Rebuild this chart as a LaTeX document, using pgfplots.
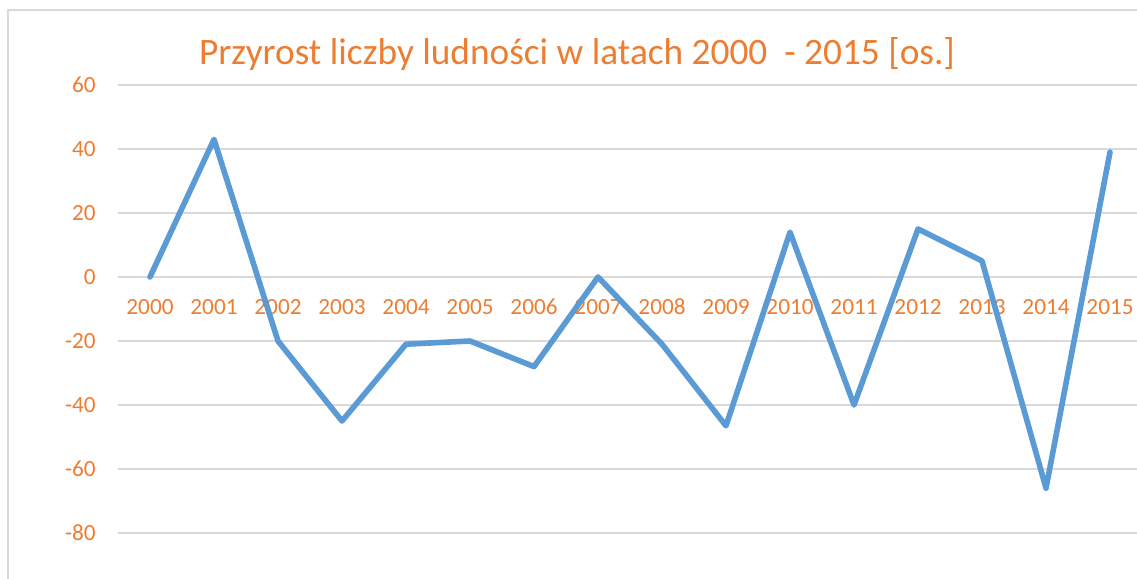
\documentclass[border=0pt]{standalone}
\usepackage{fontspec}
\setmainfont{Carlito}
\usepackage{pgfplots}
\pgfplotsset{compat=1.18}
\definecolor{orng}{HTML}{ED7D31}
\definecolor{blu}{HTML}{5B9BD5}
\definecolor{grd}{HTML}{D9D9D9}
\begin{document}
\begin{tikzpicture}[x=0.75pt,y=0.75pt]
\useasboundingbox (0,0) rectangle (1137,578);
\fill[white] (0,0) rectangle (1137,578);
\draw[grd, line width=1.1pt] (8,-20) -- (8,568) -- (1160,568);
\coordinate (A) at (118,45);
\begin{axis}[
  at={(A)}, anchor=south west,
  scale only axis, width=768pt, height=336pt,
  xmin=-0.5, xmax=15.5, ymin=-80, ymax=60,
  clip=false,
  axis line style={draw=none},
  tick style={draw=none},
  major tick length=0pt,
  ymajorgrids, grid style={grd, line width=1.1pt},
  ytick={-80,-60,-40,-20,0,20,40,60},
  yticklabels={-80,-60,-40,-20,0,20,40,60},
  xtick={0,...,15},
  xticklabels={2000,2001,2002,2003,2004,2005,2006,2007,2008,2009,2010,2011,2012,2013,2014,2015},
  ticklabel style={font=\fontsize{17.4pt}{20pt}\selectfont, text=orng},
  yticklabel style={anchor=east, inner sep=0pt, xshift=-16.5pt},
  xticklabel style={anchor=center, inner sep=0pt, yshift=169.5pt},
]
\addplot[blu, line width=4.2pt, line join=round, line cap=round] coordinates {
(0,0) (1,43) (2,-20) (3,-45) (4,-21) (5,-20) (6,-28) (7,0) (8,-21) (9,-46.5) (10,14) (11,-40) (12,15) (13,5) (14,-66) (15,39)
};
\end{axis}
\node[anchor=base, text=orng, font=\fontsize{28pt}{32pt}\selectfont, inner sep=0pt] at (577,513) {Przyrost liczby ludności w latach 2000~ - 2015 [os.]};
\end{tikzpicture}
\end{document}
